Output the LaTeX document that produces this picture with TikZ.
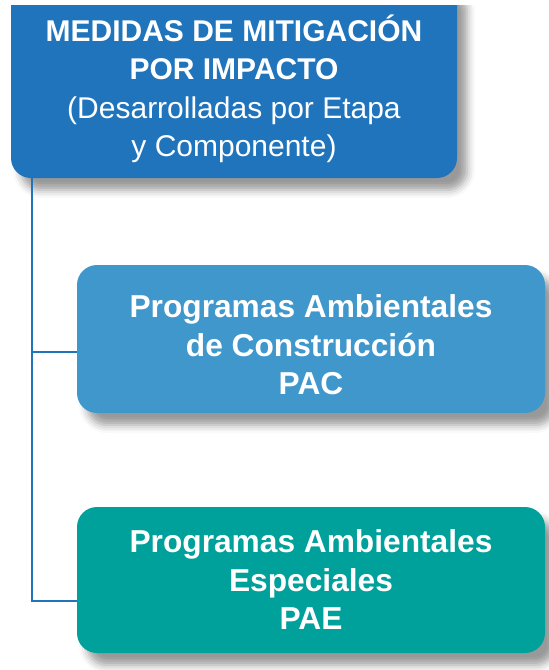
\documentclass[tikz,border=0pt]{standalone}
\usepackage{fontspec}
\setmainfont{Liberation Sans}
\usetikzlibrary{positioning,calc,shadows.blur}
\definecolor{topblue}{RGB}{31,116,188}
\definecolor{pacblue}{RGB}{63,151,203}
\definecolor{paeteal}{RGB}{0,161,154}
\tikzset{
  box/.style={rectangle, rounded corners=20pt, inner sep=0pt,
    blur shadow={shadow xshift=10pt, shadow yshift=-12pt, shadow blur radius=8pt, shadow opacity=40}},
  boxtext/.style={text=white, align=center, inner sep=0pt},
  link/.style={draw=topblue, line width=2pt}
}

\begin{document}
\begin{tikzpicture}[x=1pt,y=-1pt]
    \useasboundingbox (0,0) rectangle (549,670);

    % head box, cut off at the top
    \begin{scope}
        \clip (0,5) rectangle (549,670);
        \node[box, fill=topblue, minimum width=446pt, minimum height=198pt] (top) at (234,79) {};
    \end{scope}
    \node[boxtext, font=\fontsize{30}{38.5}\selectfont] (toptext) at ([yshift=-10pt]top.center)
        {\textbf{MEDIDAS DE MITIGACIÓN}\\\textbf{POR IMPACTO}\\(Desarrolladas por Etapa\\y Componente)};

    \node[box, fill=pacblue, minimum width=468pt, minimum height=148pt] (pac) at (311,339) {};
    \node[boxtext, font=\fontsize{31.7}{38.5}\selectfont\bfseries] (pactext) at ([yshift=-6pt]pac.center)
        {Programas Ambientales\\de Construcción\\PAC};

    \node[box, fill=paeteal, minimum width=468pt, minimum height=146pt] (pae) at (311,580) {};
    \node[boxtext, font=\fontsize{31.7}{38.5}\selectfont\bfseries] (paetext) at (pae.center)
        {Programas Ambientales\\Especiales\\PAE};

    \coordinate (trunk) at ([xshift=21pt]top.south west);
    \coordinate (pacin) at ($(pac.south west)!0.41!(pac.north west)$);
    \coordinate (paein) at ($(pae.south west)!0.36!(pae.north west)$);

    \draw[link] (trunk) |- (paein);
    \draw[link] (trunk |- pacin) -- (pacin);
\end{tikzpicture}
\end{document}
